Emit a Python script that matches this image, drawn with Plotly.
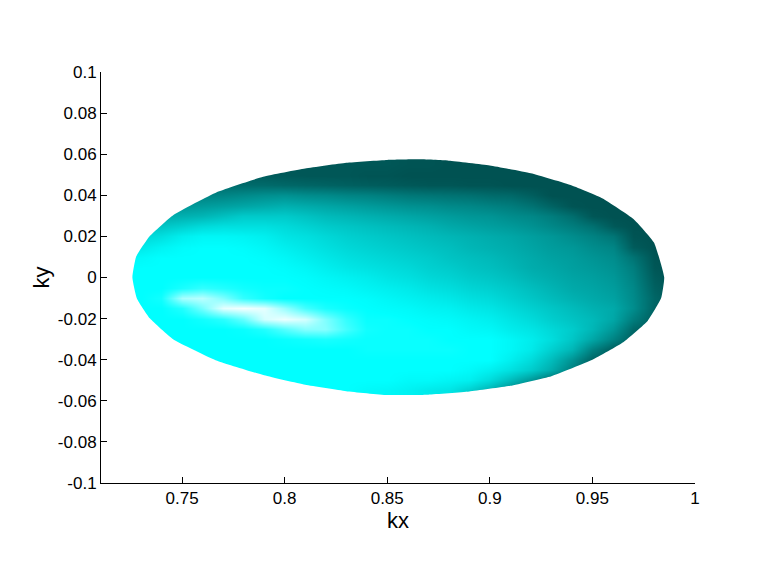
import plotly.graph_objects as go

kx_grid = [0.72, 0.73, 0.74, 0.75, 0.76, 0.77, 0.78, 0.79, 0.80, 0.81, 0.82, 0.83, 0.84, 0.85, 0.86,
           0.87, 0.88, 0.89, 0.90, 0.91, 0.92, 0.93, 0.94, 0.95, 0.96, 0.97, 0.98, 0.99, 1.00]
ky_grid = [0.060, 0.055, 0.050, 0.045, 0.040, 0.035, 0.030, 0.025, 0.020, 0.015, 0.010, 0.005, 0.0,
           -0.005, -0.010, -0.015, -0.020, -0.025, -0.030, -0.035, -0.040, -0.045, -0.050, -0.055, -0.060]
shade = [
    [30, 30, 20, 12, 8, 5, 5, 5, 5, 5, 5, 5, 5, 5, 4, 4, 3, 3, 3, 3, 3, 3, 3, 3, 3, 3, 3, 3, 3],
    [30, 30, 20, 12, 8, 5, 5, 5, 5, 5, 5, 5, 5, 5, 4, 4, 3, 3, 3, 3, 3, 3, 3, 3, 3, 3, 3, 3, 3],
    [30, 30, 25, 15, 8, 8, 8, 7, 6, 5, 5, 5, 4, 4, 3, 3, 3, 3, 3, 3, 3, 3, 3, 3, 3, 3, 3, 3, 3],
    [30, 30, 25, 18, 14, 14, 13, 13, 12, 11, 10, 9, 8, 7, 6, 5, 5, 4, 4, 3, 3, 3, 3, 3, 3, 3, 3, 3, 3],
    [35, 35, 28, 22, 22, 23, 25, 27, 28, 26, 25, 23, 22, 20, 18, 17, 16, 15, 13, 12, 8, 3, 3, 3, 3, 3, 3, 3, 3],
    [40, 40, 32, 30, 32, 34, 36, 38, 40, 38, 36, 34, 32, 30, 28, 27, 25, 24, 22, 20, 16, 10, 4, 3, 3, 3, 3, 3, 3],
    [45, 45, 38, 40, 42, 46, 50, 50, 50, 47, 44, 42, 40, 38, 36, 34, 32, 30, 29, 26, 24, 20, 14, 5, 3, 3, 3, 3, 3],
    [50, 50, 48, 52, 56, 58, 58, 58, 56, 53, 50, 48, 46, 44, 42, 40, 37, 35, 33, 31, 28, 24, 20, 15, 6, 3, 3, 3, 3],
    [55, 55, 58, 64, 67, 67, 66, 64, 60, 58, 55, 52, 50, 48, 46, 44, 42, 40, 38, 36, 33, 30, 26, 22, 17, 4, 3, 3, 3],
    [62, 62, 66, 69, 70, 70, 69, 67, 64, 61, 58, 55, 53, 51, 49, 47, 45, 42, 40, 38, 35, 32, 30, 26, 23, 7, 3, 3, 3],
    [68, 68, 70, 70, 70, 70, 70, 69, 67, 64, 61, 58, 56, 54, 52, 50, 47, 45, 43, 40, 37, 34, 32, 29, 26, 16, 4, 3, 3],
    [70, 70, 70, 70, 70, 70, 70, 70, 69, 67, 64, 61, 59, 57, 55, 52, 50, 47, 45, 42, 38, 36, 33, 31, 28, 20, 5, 3, 3],
    [70, 70, 70, 70, 70, 70, 70, 70, 70, 69, 67, 65, 63, 60, 58, 55, 53, 50, 48, 45, 41, 38, 35, 33, 30, 22, 7, 3, 3],
    [70, 70, 70, 73, 76, 74, 72, 71, 71, 70, 69, 68, 66, 64, 62, 59, 57, 54, 52, 49, 45, 41, 37, 35, 32, 24, 9, 4, 4],
    [70, 70, 72, 90, 92, 85, 76, 72, 70, 70, 70, 70, 69, 67, 65, 63, 61, 58, 56, 52, 48, 44, 40, 37, 34, 25, 11, 5, 5],
    [70, 70, 70, 74, 84, 97, 99, 97, 88, 78, 73, 71, 70, 69, 68, 66, 65, 62, 60, 56, 52, 48, 44, 40, 37, 26, 10, 5, 5],
    [70, 70, 70, 70, 72, 75, 82, 95, 98, 95, 85, 76, 71, 71, 70, 69, 68, 66, 64, 60, 56, 51, 47, 43, 36, 20, 8, 5, 5],
    [70, 70, 70, 70, 70, 70, 71, 74, 80, 86, 86, 78, 72, 71, 71, 70, 70, 68, 67, 63, 60, 55, 50, 42, 30, 12, 5, 5, 5],
    [70, 70, 70, 70, 70, 70, 70, 70, 71, 72, 73, 72, 71, 71, 71, 71, 70, 70, 70, 67, 63, 57, 48, 36, 22, 8, 5, 5, 5],
    [70, 70, 70, 70, 70, 70, 70, 70, 70, 70, 70, 70, 71, 71, 71, 71, 71, 70, 70, 67, 62, 52, 42, 22, 8, 5, 5, 5, 5],
    [70, 70, 70, 70, 70, 70, 70, 70, 70, 70, 70, 70, 70, 70, 70, 70, 70, 70, 70, 64, 56, 44, 28, 10, 5, 5, 5, 5, 5],
    [70, 70, 70, 70, 70, 70, 70, 70, 70, 70, 70, 70, 70, 70, 70, 70, 70, 68, 64, 58, 50, 38, 20, 5, 5, 5, 5, 5, 5],
    [70, 70, 70, 70, 70, 70, 70, 70, 70, 70, 70, 70, 70, 70, 68, 68, 66, 64, 56, 44, 30, 14, 5, 5, 5, 5, 5, 5, 5],
    [70, 70, 70, 70, 70, 70, 70, 70, 70, 70, 70, 70, 68, 67, 65, 62, 60, 52, 40, 25, 8, 5, 5, 5, 5, 5, 5, 5, 5],
    [70, 70, 70, 70, 70, 70, 70, 70, 70, 70, 70, 70, 68, 67, 65, 62, 60, 52, 40, 25, 8, 5, 5, 5, 5, 5, 5, 5, 5],
]

outline_kx = [0.7258, 0.7276, 0.7341, 0.7458, 0.7669, 0.7895, 0.81, 0.83, 0.85, 0.865, 0.88, 0.90, 0.92,
              0.94, 0.955, 0.97, 0.98, 0.985, 0.9835, 0.977, 0.965, 0.95, 0.93, 0.91, 0.89, 0.87, 0.85,
              0.83, 0.81, 0.79, 0.7671, 0.7456, 0.7344, 0.7280, 0.7258]
outline_ky = [0.0, 0.0101, 0.0199, 0.0304, 0.0415, 0.0490, 0.0530, 0.0558, 0.0572, 0.0575, 0.0568, 0.0545, 0.0507,
              0.0448, 0.0385, 0.0285, 0.0170, 0.0, -0.0100, -0.0210, -0.0315, -0.0400, -0.0480, -0.0527, -0.0555, -0.0570, -0.0572,
              -0.0553, -0.0522, -0.0476, -0.0405, -0.0300, -0.0200, -0.0102, 0.0]
# outer frame, wound the opposite way so the outline stays as a hole
frame_kx = [0.65, 0.65, 1.05, 1.05, 0.65]
frame_ky = [-0.15, 0.15, 0.15, -0.15, -0.15]

x_ticks = [0.75, 0.8, 0.85, 0.9, 0.95, 1.0]
x_labels = ["0.75", "0.8", "0.85", "0.9", "0.95", "1"]
y_ticks = [0.1, 0.08, 0.06, 0.04, 0.02, 0, -0.02, -0.04, -0.06, -0.08, -0.1]
y_labels = ["0.1", "0.08", "0.06", "0.04", "0.02", "0", "-0.02", "-0.04", "-0.06", "-0.08", "-0.1"]

fig = go.Figure()
fig.add_trace(go.Heatmap(
    x=kx_grid, y=ky_grid, z=shade, zmin=0, zmax=100, zsmooth="best", showscale=False,
    colorscale=[[0, "rgb(0,74,74)"], [0.7, "rgb(0,255,255)"], [1, "rgb(255,255,255)"]],
    hoverinfo="skip",
))
fig.add_trace(go.Scatter(
    x=frame_kx + [None] + outline_kx[::-1], y=frame_ky + [None] + outline_ky[::-1],
    mode="lines", fill="toself", fillcolor="white",
    line=dict(width=0, color="white", shape="spline", smoothing=0.4),
    hoverinfo="skip", showlegend=False,
))
axis_common = dict(
    showgrid=False, zeroline=False, showline=True, linecolor="black", linewidth=1,
    ticks="inside", ticklen=6, tickcolor="black", tickwidth=1, mirror=False,
    tickfont=dict(family="Liberation Sans", size=17, color="black"),
)
fig.update_layout(
    width=752, height=560, autosize=False, showlegend=False,
    paper_bgcolor="white", plot_bgcolor="white",
    margin=dict(l=93, r=65, t=64, b=85),
    xaxis=dict(range=[0.7105, 1.0], tickmode="array", tickvals=x_ticks, ticktext=x_labels,
               title=dict(text="kx", font=dict(family="Liberation Sans", size=22, color="black"), standoff=5),
               **axis_common),
    yaxis=dict(range=[-0.1, 0.1], tickmode="array", tickvals=y_ticks, ticktext=y_labels,
               title=dict(text="ky", font=dict(family="Liberation Sans", size=22, color="black"), standoff=2),
               **axis_common),
)
fig.write_html("out.html", config=dict(displayModeBar=False))
